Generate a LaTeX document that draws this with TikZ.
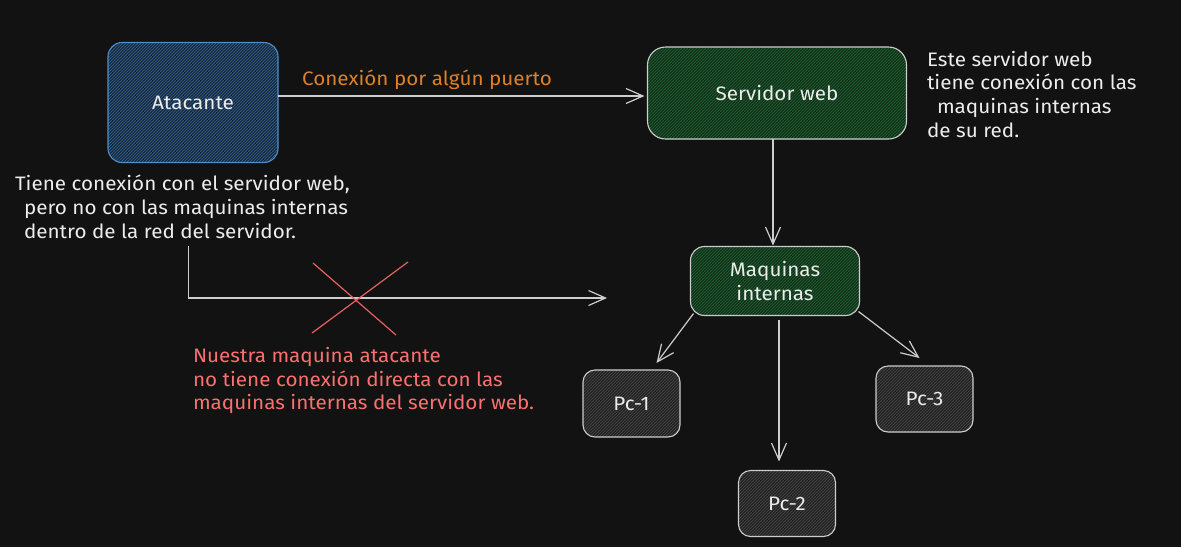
\documentclass[tikz,border=0pt]{standalone}
\usepackage{fontspec}
\setmainfont[FakeStretch=1.06]{Fira Sans}
\usetikzlibrary{arrows.meta,patterns}
\definecolor{bg}{RGB}{18,18,18}
\definecolor{txt}{RGB}{236,236,236}
\definecolor{edge}{RGB}{205,205,205}
\definecolor{bluefill}{RGB}{24,44,64}
\definecolor{bluehatch}{RGB}{52,96,140}
\definecolor{blueedge}{RGB}{80,140,200}
\definecolor{greenfill}{RGB}{18,50,28}
\definecolor{greenhatch}{RGB}{34,100,52}
\definecolor{grayfill}{RGB}{36,36,36}
\definecolor{grayhatch}{RGB}{72,72,72}
\definecolor{orangetxt}{RGB}{222,128,40}
\definecolor{redtxt}{RGB}{250,112,112}
\definecolor{redx}{RGB}{232,96,96}
\begin{document}
\begin{tikzpicture}[x=1pt,y=-1pt,
  every node/.style={inner sep=0pt, outer sep=0pt, text=txt, font=\fontsize{19.5}{23.7}\selectfont},
  box/.style={draw=edge, line width=1.1pt, rounded corners=14pt, pattern=north east lines},
  bluebox/.style={box, draw=blueedge, preaction={fill=bluefill}, pattern color=bluehatch},
  greenbox/.style={box, preaction={fill=greenfill}, pattern color=greenhatch},
  graybox/.style={box, rounded corners=12pt, preaction={fill=grayfill}, pattern color=grayhatch},
  conn/.style={draw=edge, line width=1.2pt, -{Straight Barb[length=17pt,width=15pt]}},
  note/.style={align=left, anchor=west},
  crossline/.style={draw=redx, line width=1.2pt}
]
\fill[bg] (0,0) rectangle (1181,547);
\useasboundingbox (0,0) rectangle (1181,547);

% boxes
\node[bluebox, minimum width=170pt, minimum height=120pt] (atk) at (193,102.5) {Atacante};
\node[greenbox, minimum width=259pt, minimum height=92pt, rounded corners=18pt] (srv) at (777,93) {Servidor web};
\node[greenbox, minimum width=169pt, minimum height=69pt, align=center] (mq) at (775,281) {Maquinas\\internas};
\node[graybox, minimum width=97pt, minimum height=67pt] (pc1) at (631.5,403.5) {Pc-1};
\node[graybox, minimum width=97pt, minimum height=66pt] (pc2) at (787,503.5) {Pc-2};
\node[graybox, minimum width=97pt, minimum height=66pt] (pc3) at (924.5,399) {Pc-3};

% texts
\node[text=orangetxt] (lbl) at (427,80) {Conexión por algún puerto};
\node[note] (n1) at (15,206.7) {Tiene conexión con el servidor web,\\\hspace*{9pt}pero no con las maquinas internas\\\hspace*{9pt}dentro de la red del servidor.};
\node[note] (n2) at (927,94.2) {Este servidor web\\tiene conexión con las\\\hspace*{10pt}maquinas internas\\de su red.};
\node[note, text=redtxt] (n3) at (193,380.5) {Nuestra maquina atacante\\no tiene conexión directa con las\\maquinas internas del servidor web.};

% connectors
\draw[conn] (atk.east |- 0,96) -- ([xshift=-3pt]srv.west |- 0,96);
\draw[conn] ([xshift=-4pt]srv.south) -- ([shift={(-2,-1)}]mq.north);
\draw[conn] ([shift={(3,-2)}]mq.south west) -- ([shift={(25,-7)}]pc1.north);
\draw[conn] ([shift={(4,4)}]mq.south) -- ([shift={(-8,-9)}]pc2.north);
\draw[conn] ([shift={(-1,-4)}]mq.south east) -- ([shift={(-5,-8)}]pc3.north);

% blocked path
\coordinate (lstart) at (188.5,246);
\coordinate (lend) at (607,298);
\draw[conn] (lstart) -- (lstart |- lend) -- (lend);

% red cross
\draw[crossline] (313,263) -- (396,335);
\draw[crossline] (408,262) -- (312,333);
\end{tikzpicture}
\end{document}
